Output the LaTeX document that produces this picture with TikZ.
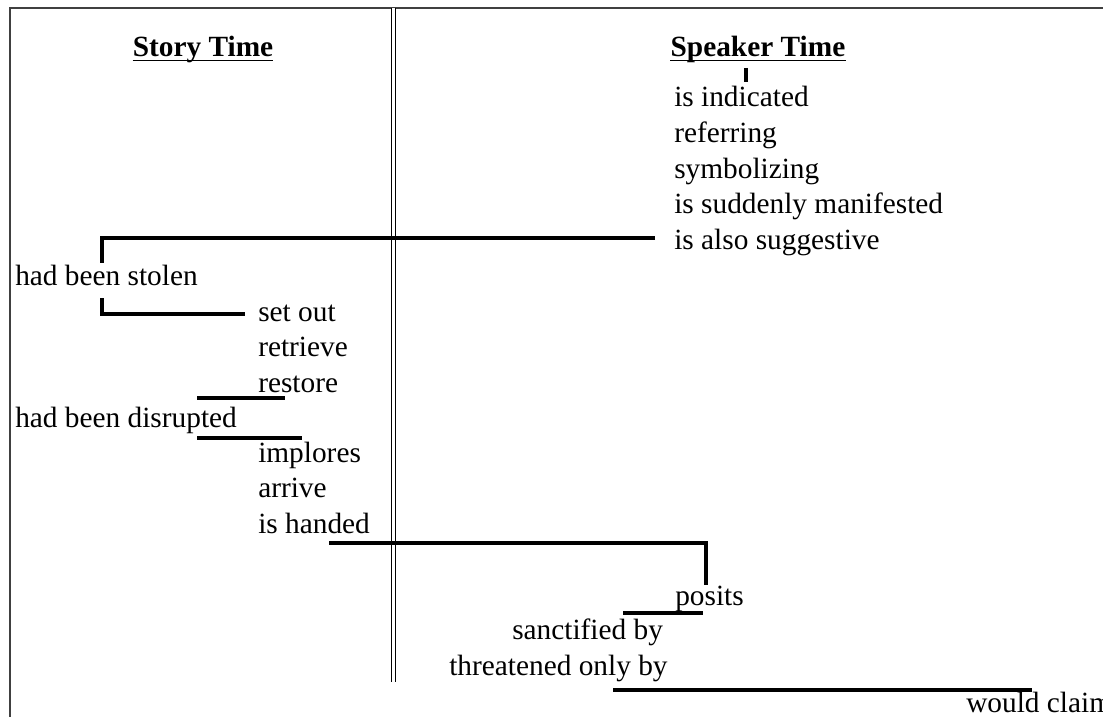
\documentclass[tikz,border=0pt]{standalone}
\usepackage{fontspec}
\setmainfont{Liberation Serif}
\usetikzlibrary{positioning}

\begin{document}
\begin{tikzpicture}[x=0.75pt, y=-0.75pt,
    font=\fontsize{22}{26}\selectfont,
    verb/.style={anchor=base west, inner sep=0pt},
    head/.style={anchor=base, inner sep=0pt, font=\fontsize{22}{26}\selectfont\bfseries},
    link/.style={line width=2.3pt},
    uline/.style={line width=1.1pt}]
  \def\lx{258}   % left x of story lists
  \def\rx{674}   % left x of speaker list
  \def\py{35.6}  % line pitch
  \useasboundingbox (0,0) rectangle (1103,717);
  \clip (0,0) rectangle (1103,717);
  % frame and divider
  \draw[line width=0.9pt, black!75] (10,717) -- (10,8) -- (1103,8);
  \draw[double, double distance=1.9pt, line width=0.9pt] (393.5,8) -- (393.5,682);
  % headings
  \node[head] (story) at (203,57) {Story Time};
  \node[head] (speaker) at (758,57) {Speaker Time};
  \draw[uline] ([yshift=-2.6pt]story.base west) -- ([yshift=-2.6pt]story.base east);
  \draw[uline] ([yshift=-2.6pt]speaker.base west) -- ([yshift=-2.6pt]speaker.base east);
  % speaker time list
  \foreach \n/\t [count=\k from 0] in {indic/is indicated, refer/referring,
      symb/symbolizing, manif/is suddenly manifested, sugg/is also suggestive}
    \node[verb] (\n) at (\rx,{107+\py*\k}) {\t};
  % story time lists
  \node[verb] (stolen) at (15,285) {had been stolen};
  \foreach \n/\t [count=\k from 0] in {setout/set out, retrieve/retrieve, restore/restore}
    \node[verb] (\n) at (\lx,{321+\py*\k}) {\t};
  \node[verb] (disrupt) at (15,427) {had been disrupted};
  \foreach \n/\t [count=\k from 0] in {implore/implores, arrive/arrive, handed/is handed}
    \node[verb] (\n) at (\lx,{462+\py*\k}) {\t};
  % back to speaker time
  \node[verb] (posits) at (675,605) {posits};
  \node[verb] (sanct) at (512,639) {sanctified by};
  \node[verb] (threat) at (449,675) {threatened only by};
  \node[verb] (claim) at (966,712) {would claim};
  % connectors
  \coordinate (tkA) at (746,68);
  \coordinate (tkB) at (746,82);
  \draw[link] (tkA) -- (tkB);
  \coordinate (aS) at (655,238);
  \coordinate (aC) at (102,238);
  \coordinate (aE) at (102,263);
  \draw[link] (aS) -- (aC) -- (aE);
  \coordinate (bS) at (102,298);
  \coordinate (bC) at (102,314);
  \coordinate (bE) at (245,314);
  \draw[link] (bS) -- (bC) -- (bE);
  \coordinate (cS) at (197,398);
  \coordinate (cE) at (285,398);
  \draw[link] (cS) -- (cE);
  \coordinate (dS) at (197,438);
  \coordinate (dE) at (302,438);
  \draw[link] (dS) -- (dE);
  \coordinate (eS) at (329,543);
  \coordinate (eC) at (706,543);
  \coordinate (eE) at (706,585);
  \draw[link] (eS) -- (eC) -- (eE);
  \coordinate (fS) at (623,613);
  \coordinate (fE) at (703,613);
  \draw[link] (fS) -- (fE);
  \coordinate (gS) at (613,690);
  \coordinate (gE) at (1032,690);
  \draw[link] (gS) -- (gE);
\end{tikzpicture}
\end{document}
